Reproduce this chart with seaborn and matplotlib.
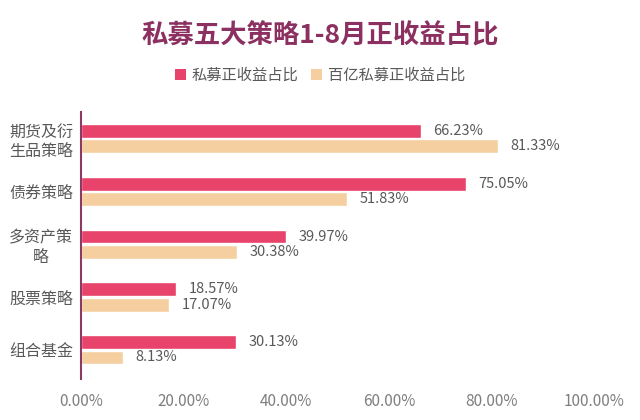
import matplotlib
matplotlib.use("Agg")
import matplotlib.pyplot as plt
import seaborn as sns
import pandas as pd
from matplotlib.patches import Patch

categories = ["期货及衍\n生品策略", "债券策略", "多资产策\n略", "股票策略", "组合基金"]
series_names = ["私募正收益占比", "百亿私募正收益占比"]
private_vals = [66.23, 75.05, 39.97, 18.57, 30.13]
big_vals = [81.33, 51.83, 30.38, 17.07, 8.13]
xticks = [0, 20, 40, 60, 80, 100]
colors = ["#E8436A", "#F5CFA0"]

sns.set_theme(style="white")
plt.rcParams['font.family'] = ['Noto Sans CJK SC', 'DejaVu Sans']

df = pd.DataFrame({
    "cat": categories * 2,
    "series": [series_names[0]] * 5 + [series_names[1]] * 5,
    "val": private_vals + big_vals,
})

fig = plt.figure(figsize=(6.4, 4.2), dpi=100)
ax = fig.add_axes([0.127, 0.098, 0.801, 0.635])
sns.barplot(data=df, y="cat", x="val", hue="series", palette=colors,
            orient="h", width=0.58, gap=0.1, ax=ax, legend=False, saturation=1)

for cont in ax.containers:
    ax.bar_label(cont, labels=[f"{v.get_width():.2f}%" for v in cont],
                 padding=9, fontsize=10.5, color="#595959")

ax.set_xlim(0, 100)
ax.set_ylim(4.55, -0.5)
ax.set_xticks(xticks)
ax.set_xticklabels([f"{t:.2f}%" for t in xticks], fontsize=11, color="#7f7f7f")
ax.tick_params(axis='x', length=0, pad=10)
ax.tick_params(axis='y', length=0, labelsize=11.5, labelcolor="#595959")
ax.set_xlabel("")
ax.set_ylabel("")
for s in ["top", "right", "bottom"]:
    ax.spines[s].set_visible(False)
ax.spines["left"].set_color("#8B3A62")
ax.spines["left"].set_linewidth(1.5)
for lbl in ax.get_yticklabels():
    lbl.set_horizontalalignment("center")
    lbl.set_multialignment("center")
ax.tick_params(axis='y', pad=29)

fig.text(0.5, 0.915, "私募五大策略1-8月正收益占比", ha="center", va="center",
         fontsize=19, fontweight="black", color="#8B3060")

handles = [Patch(facecolor=c, edgecolor='none') for c in colors]
fig.legend(handles, series_names, loc="center", bbox_to_anchor=(0.5, 0.82), ncol=2,
           frameon=False, fontsize=11, handlelength=0.7, handleheight=0.7,
           handletextpad=0.4, columnspacing=0.8, labelcolor="#595959")

fig.savefig("out.png", dpi=100)
